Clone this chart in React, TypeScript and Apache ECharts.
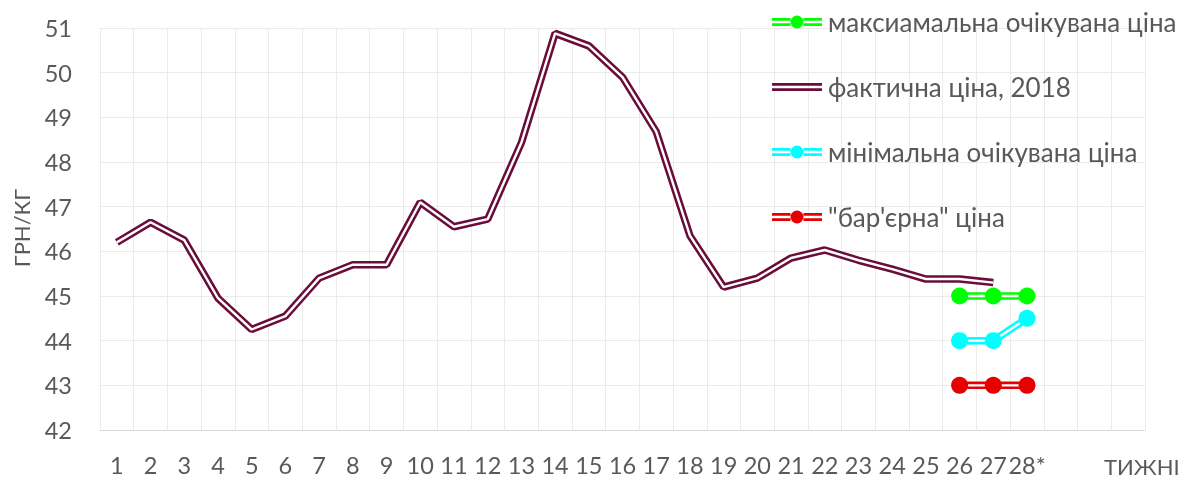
import React, { useEffect, useRef } from "react";
import * as echarts from "echarts";

const categories = [
  "1", "2", "3", "4", "5", "6", "7", "8", "9", "10", "11", "12", "13", "14", "15",
  "16", "17", "18", "19", "20", "21", "22", "23", "24", "25", "26", "27", "28*", "", "", "",
];

const factPrice = [
  46.2, 46.65, 46.25, 44.95, 44.25, 44.55, 45.4, 45.7, 45.7, 47.1, 46.55, 46.72, 48.43, 50.88,
  50.6, 49.9, 48.68, 46.35, 45.2, 45.4, 45.85, 46.03, 45.8, 45.6, 45.38, 45.38, 45.3,
];
const maxPrice = [45, 45, 45];
const minPrice = [44, 44, 44.5];
const barrierPrice = [43, 43, 43];
const forecastStart = 25; // index of category "26"

const NAME_MAX = "максиамальна очікувана ціна";
const NAME_FACT = "фактична ціна, 2018";
const NAME_MIN = "мінімальна очікувана ціна";
const NAME_BAR = "\"бар'єрна\" ціна";

const pad = (vals: number[], start: number) => {
  const out: (number | null)[] = categories.map(() => null);
  vals.forEach((v, i) => (out[start + i] = v));
  return out;
};

const ICON_DOUBLE = "path://M0 3H50V5.7H0Z M0 8.3H50V11H0Z";
const ICON_DOUBLE_DOT =
  "path://M0 3H18.5V5.7H0Z M0 8.3H18.5V11H0Z M31.5 3H50V5.7H31.5Z M31.5 8.3H50V11H31.5Z M31.5 7A6.5 6.5 0 1 1 18.5 7A6.5 6.5 0 1 1 31.5 7Z";

const FONT = "Lato, 'Open Sans', sans-serif";
const TXT = "#595959";

export default function App() {
  const ref = useRef<HTMLDivElement>(null);
  useEffect(() => {
    if (!ref.current) return;
    const chart = echarts.init(ref.current, undefined, { renderer: "svg" });

    const doubleLine = (name: string, data: (number | null)[], color: string, withMarkers: boolean) => {
      const s: any[] = [
        {
          name,
          type: "line",
          data,
          symbol: "none",
          z: 2,
          lineStyle: { width: 7.5, color },
          itemStyle: { color },
          connectNulls: false,
        },
        {
          name: name + "_w",
          type: "line",
          data,
          symbol: "none",
          z: 3,
          silent: true,
          lineStyle: { width: 2.4, color: "#ffffff" },
          itemStyle: { color: "#ffffff" },
        },
      ];
      if (withMarkers) {
        s.push({
          name: name + "_m",
          type: "scatter",
          data: data.map((v) => (v === null ? "-" : v)),
          symbol: "circle",
          symbolSize: 17,
          z: 4,
          itemStyle: { color, opacity: 1 },
        });
      }
      return s;
    };

    chart.setOption({
      animation: false,
      textStyle: { fontFamily: FONT },
      grid: { left: 100, right: 49, top: 28, bottom: 52, containLabel: false },
      xAxis: {
        type: "category",
        data: categories,
        boundaryGap: true,
        axisLine: { lineStyle: { color: "#d9d9d9", width: 1 } },
        axisTick: { show: false },
        axisLabel: { interval: 0, color: TXT, fontSize: 23.5, fontFamily: FONT, margin: 23 },
        splitLine: { show: true, interval: 0, lineStyle: { color: "#ebebeb", width: 1 } },
      },
      yAxis: {
        type: "value",
        min: 42,
        max: 51,
        interval: 1,
        axisLine: { show: false },
        axisTick: { show: false },
        axisLabel: { color: TXT, fontSize: 23.5, fontFamily: FONT, margin: 28 },
        splitLine: { lineStyle: { color: "#ebebeb", width: 1 } },
      },
      legend: {
        orient: "vertical",
        left: 772,
        top: 9,
        padding: 0,
        itemWidth: 50,
        itemHeight: 14,
        itemGap: 39,
        textStyle: { color: TXT, fontSize: 26, fontFamily: FONT, padding: [0, 0, 0, 1] },
        itemStyle: { borderWidth: 0 },
        data: [
          { name: NAME_MAX, icon: ICON_DOUBLE_DOT },
          { name: NAME_FACT, icon: ICON_DOUBLE },
          { name: NAME_MIN, icon: ICON_DOUBLE_DOT },
          { name: NAME_BAR, icon: ICON_DOUBLE_DOT },
        ],
        selectedMode: false,
      },
      graphic: [
        {
          type: "text",
          x: 21,
          y: 228,
          rotation: Math.PI / 2,
          style: {
            text: "ГРН/КГ",
            fill: TXT,
            font: `22px ${FONT}`,
            align: "center",
            verticalAlign: "middle",
          },
        },
        {
          type: "text",
          left: 1104,
          top: 455,
          style: { text: "ТИЖНІ", fill: TXT, font: `22px ${FONT}` },
        },
      ],
      series: [
        ...doubleLine(NAME_FACT, pad(factPrice, 0), "#6b0d3a", false),
        ...doubleLine(NAME_MAX, pad(maxPrice, forecastStart), "#00ff00", true),
        ...doubleLine(NAME_MIN, pad(minPrice, forecastStart), "#00ffff", true),
        ...doubleLine(NAME_BAR, pad(barrierPrice, forecastStart), "#e60000", true),
      ],
    });
    return () => chart.dispose();
  }, []);
  return <div ref={ref} style={{ width: 1194, height: 482, position: "fixed", left: 0, top: 0 }} />;
}
